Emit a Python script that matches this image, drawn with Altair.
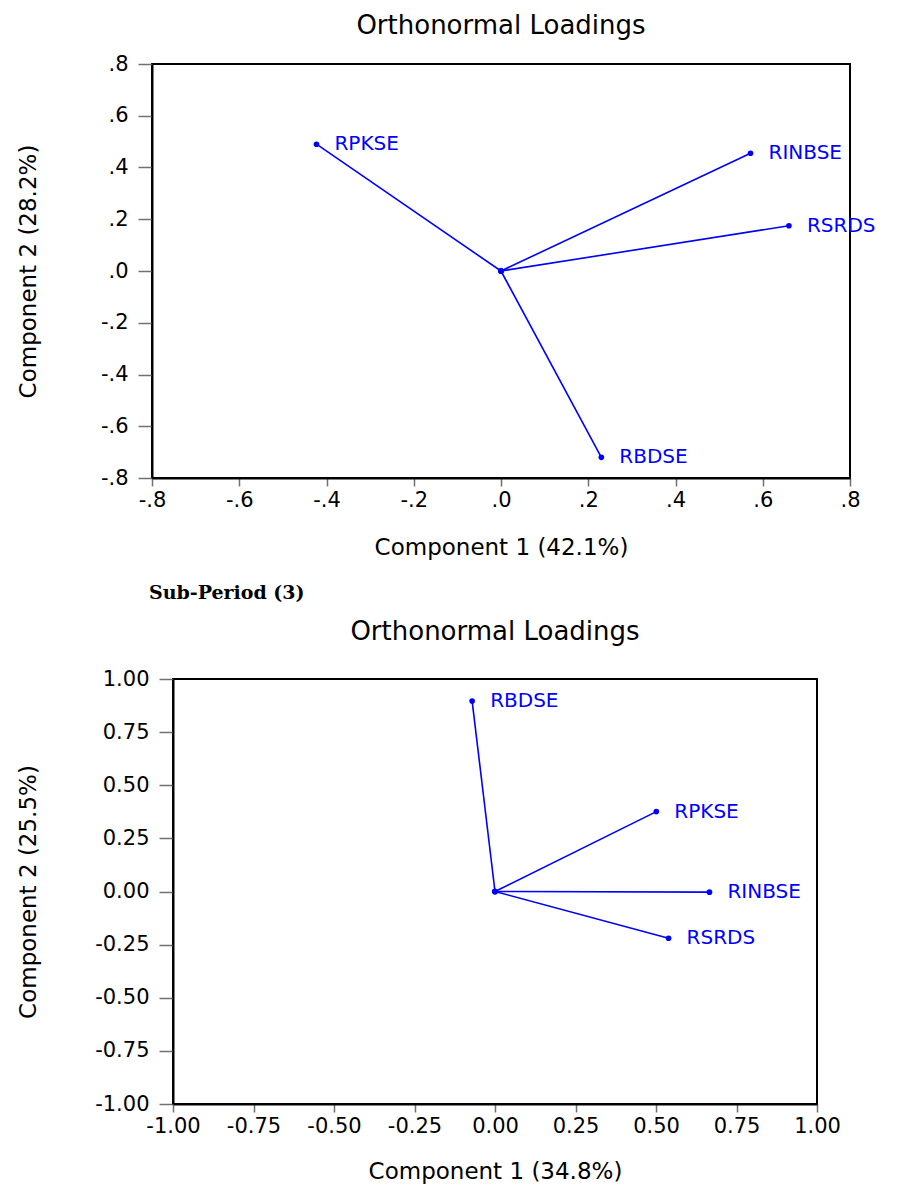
import altair as alt
import pandas as pd

# ---- data ----
names_top = ["RPKSE", "RINBSE", "RSRDS", "RBDSE"]
comp1_top = [-0.423, 0.572, 0.660, 0.230]
comp2_top = [0.490, 0.455, 0.175, -0.720]
ticks_top = [-0.8, -0.6, -0.4, -0.2, 0.0, 0.2, 0.4, 0.6, 0.8]

names_bot = ["RBDSE", "RPKSE", "RINBSE", "RSRDS"]
comp1_bot = [-0.071, 0.501, 0.666, 0.539]
comp2_bot = [0.896, 0.376, -0.003, -0.220]
ticks_bot = [-1.0, -0.75, -0.5, -0.25, 0.0, 0.25, 0.5, 0.75, 1.0]

BLUE = "#0000FF"
FONT = "DejaVu Sans"


def spacer():
    return alt.Chart(pd.DataFrame({"s": [0]})).mark_point(opacity=0).encode(
        x=alt.value(0), y=alt.value(0)
    ).properties(width=1, height=1, view=alt.ViewBackground(stroke="transparent"))


def loading_chart(names, c1, c2, ticks, label_expr, xtitle, ytitle, w, h,
                  ytitle_pad, xtitle_pad, title_offset):
    df = pd.DataFrame({"name": names, "x": c1, "y": c2})
    df["x0"] = 0.0
    df["y0"] = 0.0
    dom = [ticks[0], ticks[-1]]
    xs = alt.Scale(domain=dom, nice=False, zero=False)
    ys = alt.Scale(domain=dom, nice=False, zero=False)
    xax = alt.Axis(values=ticks, labelExpr=label_expr, title=xtitle, titlePadding=xtitle_pad)
    yax = alt.Axis(values=ticks, labelExpr=label_expr, title=ytitle, titlePadding=ytitle_pad)
    base = alt.Chart(df)
    rules = base.mark_rule(color=BLUE, strokeWidth=1.6).encode(
        x=alt.X("x:Q", scale=xs, axis=xax),
        y=alt.Y("y:Q", scale=ys, axis=yax),
        x2="x0:Q",
        y2="y0:Q",
    )
    pts = base.mark_circle(color=BLUE, size=32, opacity=1).encode(x="x:Q", y="y:Q")
    origin = base.mark_circle(color=BLUE, size=32, opacity=1).encode(x="x0:Q", y="y0:Q")
    labels = base.mark_text(
        align="left", baseline="middle", dx=18, color=BLUE, font=FONT, fontSize=20
    ).encode(x="x:Q", y="y:Q", text="name:N")
    layered = alt.layer(rules, pts, origin, labels).properties(
        width=w,
        height=h,
        view=alt.ViewBackground(stroke="black", strokeWidth=2),
        title=alt.TitleParams(
            "Orthonormal Loadings", font=FONT, fontSize=26, fontWeight="normal",
            color="black", anchor="middle", offset=title_offset,
        ),
    )
    # a tiny invisible cell on the left makes the panel's outer edge the aligned one
    return alt.hconcat(spacer(), layered, spacing=0)


top = loading_chart(
    names_top, comp1_top, comp2_top, ticks_top,
    "replace(replace(format(datum.value, '.1f'), '0.', '.'), '\u2212', '-')",
    "Component 1 (42.1%)", "Component 2 (28.2%)", 698, 414, 60, 26, 14,
)
bot = loading_chart(
    names_bot, comp1_bot, comp2_bot, ticks_bot,
    "replace(format(datum.value, '.2f'), '\u2212', '-')",
    "Component 1 (34.8%)", "Component 2 (25.5%)", 644, 425, 54, 24, 23,
)

sub = alt.Chart(pd.DataFrame({"t": ["Sub-Period (3)"]})).mark_text(
    align="left", baseline="middle", font="DejaVu Serif", fontWeight="bold",
    fontSize=19, color="black",
).encode(text="t:N", x=alt.value(137), y=alt.value(32)).properties(
    width=600, height=56, view=alt.ViewBackground(stroke="transparent")
)

chart = alt.concat(top, sub, bot, columns=1, align="none", spacing=0).configure(
    padding={"left": 0, "top": 4, "right": 0, "bottom": 0}
).configure_axis(
    grid=False, domainColor="black", domainWidth=2, tickColor="#707070",
    tickWidth=1.5, labelFont=FONT, labelFontSize=21, labelColor="black", labelFlush=False,
    titleFont=FONT, titleFontSize=23, titleFontWeight="normal", titleColor="black",
).configure_axisX(tickSize=8, labelPadding=3).configure_axisY(tickSize=14, labelPadding=10)

chart.save("out.html", embed_options={"renderer": "svg", "actions": False})
